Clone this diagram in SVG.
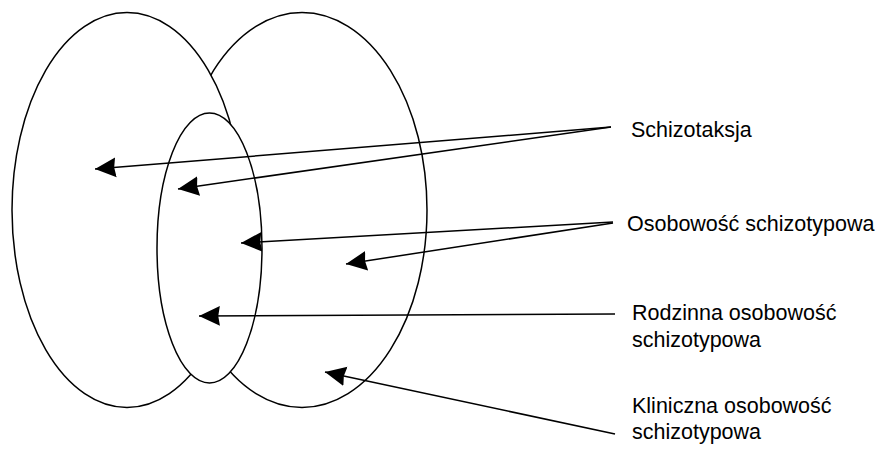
<svg xmlns="http://www.w3.org/2000/svg" width="879" height="465" viewBox="0 0 879 465">
<style>
.shape{fill:#fff;stroke:#000;stroke-width:1.5}
.conn{stroke:#000;stroke-width:1.5;fill:none;marker-end:url(#ah)}
.lbl{font-family:"Liberation Sans",Arial,sans-serif;font-size:21.5px;fill:#000}
</style>
<defs>
<marker id="ah" markerUnits="userSpaceOnUse" markerWidth="22" markerHeight="22" viewBox="0 -10 20 20" refX="19" refY="0" orient="auto">
<path d="M0,-9 L19,0 L0,9 L1.5,0 z" fill="#000"/>
</marker>
</defs>
<rect width="879" height="465" fill="#fff"/>
<g id="node-right-ellipse"><ellipse class="shape" cx="302" cy="210" rx="125" ry="197.5"/></g>
<g id="node-left-ellipse"><ellipse class="shape" cx="127" cy="210" rx="115" ry="197.5"/></g>
<g id="node-small-ellipse"><ellipse class="shape" cx="209.5" cy="248" rx="52.5" ry="135"/></g>
<g id="connectors">
<line class="conn" x1="611" y1="127" x2="95" y2="169"/>
<line class="conn" x1="611" y1="127" x2="178" y2="189"/>
<line class="conn" x1="613" y1="222" x2="241" y2="243"/>
<line class="conn" x1="613" y1="223" x2="346" y2="264"/>
<line class="conn" x1="615" y1="314" x2="199" y2="316"/>
<line class="conn" x1="615" y1="434" x2="325" y2="372"/>
</g>
<g id="label-schizotaksja"><text class="lbl" x="631" y="137">Schizotaksja</text></g>
<g id="label-osobowosc"><text class="lbl" x="627" y="231">Osobowość schizotypowa</text></g>
<g id="label-rodzinna"><text class="lbl" x="632" y="320">Rodzinna osobowość</text><text class="lbl" x="632" y="346.5">schizotypowa</text></g>
<g id="label-kliniczna"><text class="lbl" x="632" y="412.5">Kliniczna osobowość</text><text class="lbl" x="632" y="439">schizotypowa</text></g>
</svg>
